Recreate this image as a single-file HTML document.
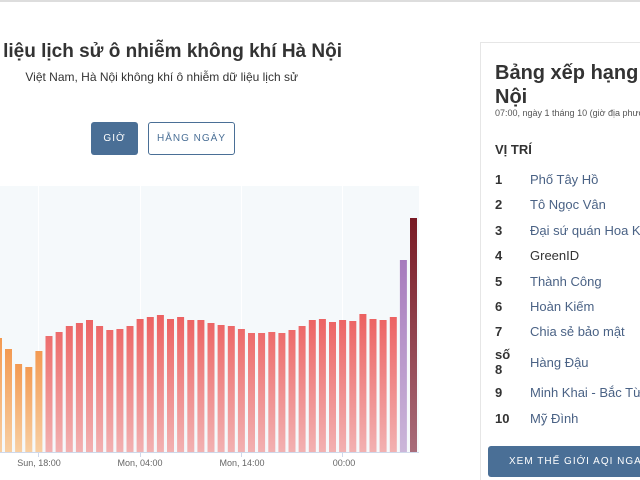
<!DOCTYPE html>
<html><head><meta charset="utf-8"><style>
body{margin:0;width:640px;height:480px;overflow:hidden;background:#fff;font-family:"Liberation Sans",sans-serif;position:relative}
.a{position:absolute;white-space:nowrap}
.btn{position:absolute;box-sizing:border-box;border-radius:3px;font-size:10px;letter-spacing:1px;text-align:center;line-height:31px;white-space:nowrap;overflow:hidden}
.r{position:absolute;font-size:13px;color:#4a6285;left:530px;white-space:nowrap}
.n{position:absolute;font-size:13px;font-weight:bold;color:#333;left:495px}
#rp{position:absolute;left:0;top:0;width:640px;height:480px;overflow:hidden}
</style></head><body>
<div class="a" style="left:0;top:0;width:640px;height:2px;background:#ddd"></div>
<div class="a" style="right:298px;top:41px;font-size:19px;font-weight:bold;color:#333">Dữ liệu lịch sử ô nhiễm không khí Hà Nội</div>
<div class="a" style="right:342px;top:70px;font-size:12px;color:#333">Việt Nam, Hà Nội không khí ô nhiễm dữ liệu lịch sử</div>
<div class="btn" style="left:91px;top:122px;width:47px;height:33px;background:#4a6f96;color:#fff;line-height:33px">GIỜ</div>
<div class="btn" style="left:148px;top:122px;width:87px;height:33px;border:1px solid #4a6f96;color:#4a6f96">HẰNG NGÀY</div>
<svg class="a" style="left:0;top:0" width="430" height="480">
<defs>
<linearGradient id="o" x1="0" y1="0" x2="0" y2="1"><stop offset="0" stop-color="#f39a52"/><stop offset="1" stop-color="#f8cfa2"/></linearGradient>
<linearGradient id="rd" gradientUnits="userSpaceOnUse" x1="0" y1="315" x2="0" y2="452"><stop offset="0" stop-color="#ec6161"/><stop offset="1" stop-color="#f2b1b1"/></linearGradient>
<linearGradient id="p" x1="0" y1="0" x2="0" y2="1"><stop offset="0" stop-color="#a67abd"/><stop offset="1" stop-color="#cbb6d9"/></linearGradient>
<linearGradient id="d" x1="0" y1="0" x2="0" y2="1"><stop offset="0" stop-color="#781a24"/><stop offset="1" stop-color="#a86c7a"/></linearGradient>
</defs>
<rect x="0" y="186" width="419" height="266" fill="#f5f9fb"/>
<g stroke="#fff" stroke-width="1"><line x1="38.5" y1="186" x2="38.5" y2="452"/><line x1="140.5" y1="186" x2="140.5" y2="452"/><line x1="241.5" y1="186" x2="241.5" y2="452"/><line x1="342.5" y1="186" x2="342.5" y2="452"/></g>
<g id="bars"></g>
<line x1="0" y1="452.5" x2="419" y2="452.5" stroke="#cfd8ea"/>
<g stroke="#cfd8ea"><line x1="38.5" y1="452" x2="38.5" y2="457"/><line x1="140.5" y1="452" x2="140.5" y2="457"/><line x1="241.5" y1="452" x2="241.5" y2="457"/><line x1="342.5" y1="452" x2="342.5" y2="457"/></g>
<g font-size="9" fill="#666" text-anchor="middle" font-family="Liberation Sans,sans-serif"><text x="39" y="466">Sun, 18:00</text><text x="140" y="466">Mon, 04:00</text><text x="242" y="466">Mon, 14:00</text><text x="344" y="466">00:00</text></g>
</svg>
<script>
var t=[349,364,367,351,336,332,326,323,320,326,330,329,326,319,317,315,319,317,320,320,323,325,326,329,333,333,332,333,330,326,320,319,322,320,321,314,319,320,317,260,218];
var s='<rect x="-5" y="338" width="7" height="114" fill="url(#o)"/>';
t.forEach(function(y,i){var x=5+i*10.125;var f=i<4?'url(#o)':i==39?'url(#p)':i==40?'url(#d)':'url(#rd)';
s+='<rect x="'+x.toFixed(1)+'" y="'+y+'" width="7" height="'+(452-y)+'" fill="'+f+'"/>';});
document.getElementById('bars').innerHTML=s;
</script>
<div id="rp">
<div class="a" style="left:480px;top:42px;width:170px;height:450px;border:1px solid #e6e6e6;box-sizing:border-box"></div>
<div class="a" style="left:495px;top:61px;font-size:20px;font-weight:bold;color:#333;line-height:24px">Bảng xếp hạng AQI Hà<br>Nội</div>
<div class="a" style="left:495px;top:108px;font-size:9px;color:#555">07:00, ngày 1 tháng 10 (giờ địa phương)</div>
<div class="a" style="left:495px;top:142px;font-size:13px;font-weight:bold;color:#333">VỊ TRÍ</div>
<div class="n" style="top:172px">1</div><div class="r" style="top:172px">Phố Tây Hồ</div>
<div class="n" style="top:197px">2</div><div class="r" style="top:197px">Tô Ngọc Vân</div>
<div class="n" style="top:223px">3</div><div class="r" style="top:223px">Đại sứ quán Hoa Kỳ</div>
<div class="n" style="top:248px">4</div><div class="r" style="top:248px;color:#333">GreenID</div>
<div class="n" style="top:274px">5</div><div class="r" style="top:274px">Thành Công</div>
<div class="n" style="top:299px">6</div><div class="r" style="top:299px">Hoàn Kiếm</div>
<div class="n" style="top:324px">7</div><div class="r" style="top:324px">Chia sẻ bảo mật</div>
<div class="n" style="top:347px;line-height:15px">số<br>8</div><div class="r" style="top:355px">Hàng Đậu</div>
<div class="n" style="top:385px">9</div><div class="r" style="top:385px">Minh Khai - Bắc Từ Liêm</div>
<div class="n" style="top:411px">10</div><div class="r" style="top:411px">Mỹ Đình</div>
<div class="btn" style="left:488px;top:446px;width:170px;height:31px;background:#4a6f96;color:#fff;text-align:left;padding-left:21px;font-size:10px">XEM THẾ GIỚI AQI NGAY</div>
</div>
</body></html>
